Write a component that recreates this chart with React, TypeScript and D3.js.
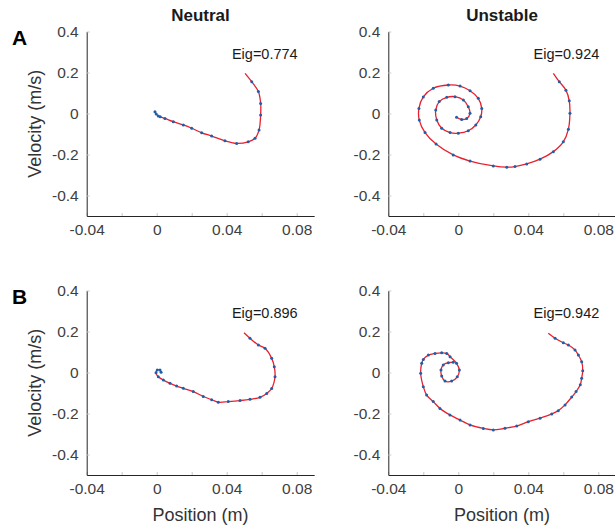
import { useEffect, useRef } from "react"
import * as d3 from "d3"

// phase portraits, position (m) vs velocity (m/s)
const columnTitles = ["Neutral", "Unstable"]
const rowLetters = ["A", "B"]
const eigValues = [[0.774, 0.924], [0.896, 0.942]]
const xTickValues = [-0.04, -0.02, 0, 0.02, 0.04, 0.06, 0.08]
const xTickLabels = [-0.04, 0, 0.04, 0.08]
const yTickValues = [-0.4, -0.2, 0, 0.2, 0.4]

const neutralA: [number, number][] = [
    [0.0505, 0.196], [0.0543, 0.155], [0.0581, 0.107], [0.0594, 0.049], [0.0594, -0.007],
    [0.0585, -0.080], [0.0562, -0.121], [0.0523, -0.138], [0.0457, -0.146], [0.0390, -0.133],
    [0.0314, -0.110], [0.0257, -0.094], [0.0200, -0.072], [0.0152, -0.056], [0.0095, -0.040],
    [0.0047, -0.024], [0.0020, -0.016], [0.0009, -0.012], [-0.0003, -0.002], [-0.0010, 0.008],
]

const unstableA: [number, number][] = [
    [0.0543, 0.196], [0.0577, 0.155], [0.0615, 0.114], [0.0634, 0.062], [0.0638, 0.001],
    [0.0629, -0.077], [0.0600, -0.138], [0.0543, -0.186], [0.0467, -0.223], [0.0391, -0.246],
    [0.0324, -0.259], [0.0277, -0.262], [0.0200, -0.256], [0.0067, -0.232], [-0.0029, -0.202],
    [-0.0127, -0.149], [-0.0190, -0.093], [-0.0223, -0.032], [-0.0225, 0.025], [-0.0200, 0.081],
    [-0.0143, 0.123], [-0.0057, 0.139], [0.0010, 0.134], [0.0067, 0.111], [0.0114, 0.074],
    [0.0134, 0.025], [0.0128, -0.016], [0.0100, -0.056], [0.0057, -0.084], [0.0000, -0.096],
    [-0.0047, -0.093], [-0.0095, -0.072], [-0.0123, -0.032], [-0.0129, 0.017], [-0.0109, 0.058],
    [-0.0066, 0.079], [-0.0019, 0.082], [0.0029, 0.066], [0.0057, 0.033], [0.0067, 0.001],
    [0.0048, -0.024], [0.0019, -0.029], [-0.0010, -0.018],
]

const neutralB: [number, number][] = [
    [0.0499, 0.194], [0.0533, 0.167], [0.0581, 0.134], [0.0619, 0.118], [0.0657, 0.069],
    [0.0672, 0.028], [0.0676, -0.021], [0.0657, -0.078], [0.0629, -0.102], [0.0590, -0.121],
    [0.0533, -0.131], [0.0476, -0.137], [0.0409, -0.142], [0.0352, -0.145], [0.0314, -0.133],
    [0.0266, -0.117], [0.0209, -0.093], [0.0152, -0.077], [0.0114, -0.066], [0.0076, -0.053],
    [0.0038, -0.037], [0.0009, -0.021], [-0.0004, -0.001], [0.0003, 0.012], [0.0019, 0.012],
    [0.0025, 0.001],
]

const unstableB: [number, number][] = [
    [0.0514, 0.191], [0.0553, 0.167], [0.0600, 0.145], [0.0629, 0.134], [0.0667, 0.110],
    [0.0686, 0.085], [0.0705, 0.053], [0.0711, 0.009], [0.0705, -0.028], [0.0697, -0.060],
    [0.0673, -0.093], [0.0648, -0.120], [0.0610, -0.158], [0.0571, -0.186], [0.0534, -0.202],
    [0.0467, -0.223], [0.0400, -0.240], [0.0334, -0.261], [0.0267, -0.272], [0.0200, -0.280],
    [0.0143, -0.273], [0.0067, -0.256], [0.0010, -0.232], [-0.0048, -0.207], [-0.0105, -0.175],
    [-0.0143, -0.142], [-0.0181, -0.110], [-0.0200, -0.069], [-0.0215, -0.004], [-0.0209, 0.045],
    [-0.0200, 0.064], [-0.0171, 0.085], [-0.0133, 0.093], [-0.0095, 0.096], [-0.0066, 0.093],
    [-0.0047, 0.077], [-0.0010, 0.045], [0.0006, 0.012], [-0.0006, -0.021], [-0.0038, -0.042],
    [-0.0076, -0.042], [-0.0095, -0.017], [-0.0099, 0.012], [-0.0086, 0.037], [-0.0057, 0.048],
    [-0.0029, 0.050],
]

const trajectories = [[neutralA, unstableA], [neutralB, unstableB]]

export default function App() {
    const ref = useRef<SVGSVGElement>(null)

    useEffect(() => {
        const svg = d3.select(ref.current)
        svg.selectAll('*').remove()

        const colLeft = [86.7, 388.3]
        const rowTop = [31.5, 290.5]
        const plotW = 227.5
        const plotH = 184.5
        const fontFamily = '"Liberation Sans", Arial, sans-serif'

        trajectories.forEach((row, r) => {
            row.forEach((data, c) => {
                const x = d3.scaleLinear().domain([-0.04, 0.09]).range([colLeft[c], colLeft[c] + plotW])
                const y = d3.scaleLinear().domain([-0.5, 0.4]).range([rowTop[r] + plotH, rowTop[r]])

                // x axis, ticks point inward
                const gx = svg.append('g')
                    .attr('transform', `translate(0,${y(-0.5)})`)
                    .call(d3.axisBottom(x)
                        .tickValues(xTickValues)
                        .tickSizeInner(-3)
                        .tickSizeOuter(0)
                        .tickPadding(8)
                        .tickFormat(d => xTickLabels.some(v => Math.abs(v - +d) < 1e-9) ? String(d) : ''))
                gx.select('.domain').attr('stroke', '#262626')
                gx.selectAll('.tick line').attr('stroke', '#c8c8c8')
                gx.selectAll('text')
                    .attr('font-size', 15.5)
                    .attr('font-family', fontFamily)
                    .attr('fill', '#404040')

                const gy = svg.append('g')
                    .attr('transform', `translate(${x(-0.04)},0)`)
                    .call(d3.axisLeft(y)
                        .tickValues(yTickValues)
                        .tickSizeInner(-3)
                        .tickSizeOuter(0)
                        .tickPadding(8)
                        .tickFormat(d => String(d)))
                gy.select('.domain').attr('stroke', '#262626')
                gy.selectAll('.tick line').attr('stroke', '#c8c8c8')
                gy.selectAll('text')
                    .attr('font-size', 15.5)
                    .attr('font-family', fontFamily)
                    .attr('fill', '#404040')

                const line = d3.line<[number, number]>()
                    .x(d => x(d[0]))
                    .y(d => y(d[1]))
                    .curve(d3.curveCatmullRom)

                svg.append('path')
                    .datum(data)
                    .attr('d', line)
                    .attr('fill', 'none')
                    .attr('stroke', '#e8202e')
                    .attr('stroke-width', 1.3)

                svg.append('g')
                    .attr('fill', '#1f5fa8')
                    .selectAll('circle')
                    .data(data.slice(1))
                    .join('circle')
                        .attr('cx', d => x(d[0]))
                        .attr('cy', d => y(d[1]))
                        .attr('r', 1.5)

                svg.append('text')
                    .attr('x', x(0.043))
                    .attr('y', y(0.265))
                    .attr('font-size', 14.5)
                    .attr('font-family', fontFamily)
                    .attr('fill', '#1a1a1a')
                    .text(`Eig=${eigValues[r][c]}`)

                if (r === 0) {
                    svg.append('text')
                        .attr('x', (x.range()[0] + x.range()[1]) / 2)
                        .attr('y', 20.5)
                        .attr('text-anchor', 'middle')
                        .attr('font-size', 17)
                        .attr('font-weight', 'bold')
                        .attr('font-family', fontFamily)
                        .attr('fill', '#1a1a1a')
                        .text(columnTitles[c])
                }
                if (r === 1) {
                    svg.append('text')
                        .attr('x', (x.range()[0] + x.range()[1]) / 2)
                        .attr('y', 521)
                        .attr('text-anchor', 'middle')
                        .attr('font-size', 18)
                        .attr('font-family', fontFamily)
                        .attr('fill', '#333')
                        .text('Position (m)')
                }
                if (c === 0) {
                    svg.append('text')
                        .attr('transform', `translate(41,${(y.range()[0] + y.range()[1]) / 2})rotate(-90)`)
                        .attr('text-anchor', 'middle')
                        .attr('font-size', 18)
                        .attr('font-family', fontFamily)
                        .attr('fill', '#333')
                        .text('Velocity (m/s)')

                    svg.append('text')
                        .attr('x', 12)
                        .attr('y', rowTop[r] + 13.5)
                        .attr('font-size', 21)
                        .attr('font-weight', 'bold')
                        .attr('font-family', fontFamily)
                        .attr('fill', '#000')
                        .text(rowLetters[r])
                }
            })
        })
    }, [])

    return (
        <svg ref={ref} width={615} height={531}
            style={{ position: 'absolute', left: 0, top: 0, background: '#fff' }} />
    )
}
